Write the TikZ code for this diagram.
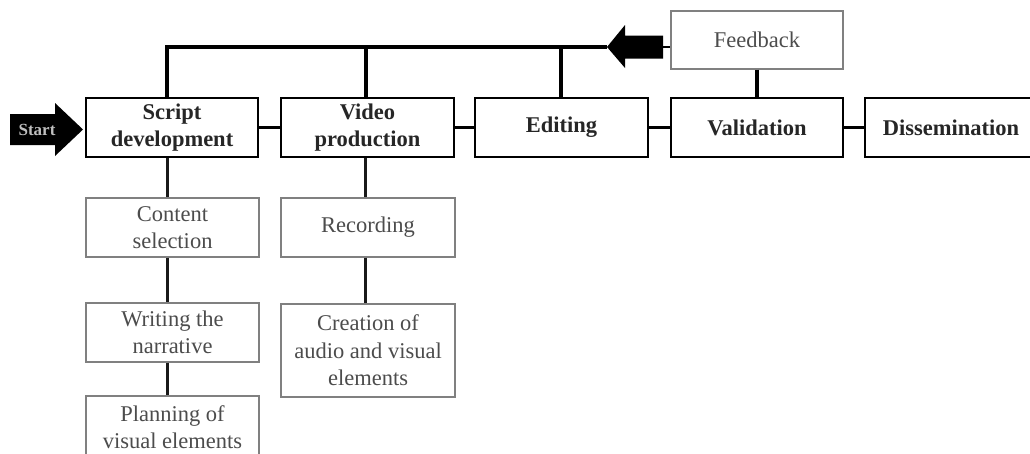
\documentclass[tikz,border=0pt]{standalone}
\usepackage{fontspec}
\setmainfont{Liberation Serif}
\begin{document}
\begin{tikzpicture}[x=1pt,y=-1pt,
  mainbox/.style={draw=black, line width=2.6pt, fill=white, align=center, inner sep=0pt,
    font=\fontsize{22.5}{27.5}\selectfont\bfseries, text=black!85},
  subbox/.style={draw=black!50, line width=1.3pt, fill=white, align=center, inner sep=0pt,
    font=\fontsize{22.5}{27.5}\selectfont, text=black!70},
  link/.style={line width=3.2pt, black},
  sublink/.style={line width=3pt, black!90}]
\useasboundingbox (0,0) rectangle (1030,453);
\clip (0,0) rectangle (1030,453);
% main boxes
\node[mainbox, minimum width=172pt, minimum height=59pt] (script) at (172,127.5) {Script\\development};
\node[mainbox, minimum width=173pt, minimum height=59pt] (video) at (367.5,127.5) {Video\\production};
\node[mainbox, minimum width=173pt, minimum height=59pt] (edit) at (561.5,127.5) {Editing};
\node[mainbox, minimum width=172pt, minimum height=59pt] (valid) at (757,127.5) {Validation};
\node[mainbox, minimum width=172pt, minimum height=59pt] (dissem) at (951,127.5) {Dissemination};
% feedback
\node[subbox, minimum width=172pt, minimum height=58pt] (feedback) at (757,40) {Feedback};
% sub boxes
\node[subbox, minimum width=173pt, minimum height=59pt] (content) at (172.5,227.5) {Content\\selection};
\node[subbox, minimum width=173pt, minimum height=59pt] (writing) at (172.5,332.5) {Writing the\\narrative};
\node[subbox, minimum width=173pt, minimum height=62pt] (planning) at (172.5,427) {Planning of\\visual elements};
\node[subbox, minimum width=174pt, minimum height=59pt] (recording) at (368,227.5) {Recording};
\node[subbox, minimum width=174pt, minimum height=93pt] (creation) at (368,350.5) {Creation of\\audio and visual\\elements};
% horizontal links between main boxes
\draw[link] (script.east) -- (video.west);
\draw[link] (video.east) -- (edit.west);
\draw[link] (edit.east) -- (valid.west);
\draw[link] (valid.east) -- (dissem.west);
\draw[link] (feedback.south) -- (valid.north);
% sub links
\draw[sublink] ([xshift=-5pt]script.south) -- ([xshift=-5.5pt]content.north);
\draw[sublink] ([xshift=-5.5pt]content.south) -- ([xshift=-5.5pt]writing.north);
\draw[sublink] ([xshift=-5.5pt]writing.south) -- ([xshift=-5.5pt]planning.north);
\draw[sublink] ([xshift=-2.5pt]video.south) -- ([xshift=-3pt]recording.north);
\draw[sublink] ([xshift=-3pt]recording.south) -- ([xshift=-3pt]creation.north);
% feedback loop
\coordinate (tip) at (607,47);
\coordinate (tail) at (663,47);
\draw[line width=2pt] (tail) -- (feedback.west |- tail);
\fill[black] (tip) -- (625,25) -- (625,35.5) -- (663,35.5) -- (663,58.5) -- (625,58.5) -- (625,68) -- cycle;
\draw[link] (tip) -- ([xshift=-5pt]script.north |- tip) -- ([xshift=-5pt]script.north);
\draw[link] ([xshift=-1.5pt]video.north |- tip) -- ([xshift=-1.5pt]video.north);
\draw[link] ([xshift=-0.5pt]edit.north |- tip) -- ([xshift=-0.5pt]edit.north);
% start arrow
\fill[black] (10,114) -- (55,114) -- (55,103) -- (83,129.5) -- (55,156) -- (55,145) -- (10,145) -- cycle;
\node[font=\fontsize{17}{19}\selectfont\bfseries, text=black!25, inner sep=0pt] (start) at (37,129.5) {Start};
\end{tikzpicture}
\end{document}
